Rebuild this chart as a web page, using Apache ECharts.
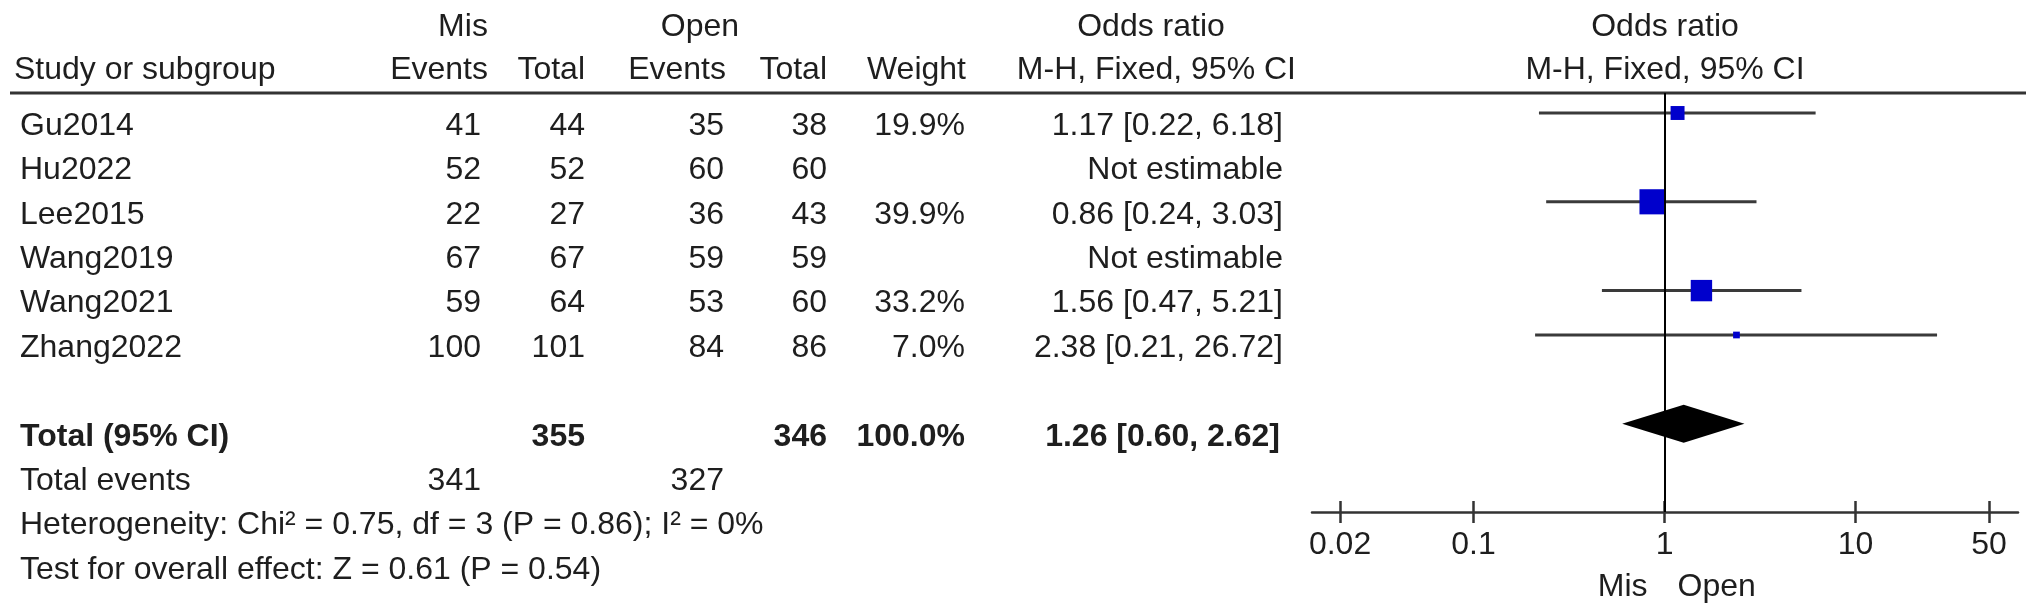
<!DOCTYPE html>
<html><head><meta charset="utf-8">
<script src="https://cdn.jsdelivr.net/npm/echarts@6/dist/echarts.min.js"></script>
<style>html,body{margin:0;padding:0;background:#fff}#c{width:2032px;height:616px}</style>
</head><body><div id="c"></div>
<script>
// ---------------- data ----------------
const studies    = ['Gu2014', 'Hu2022', 'Lee2015', 'Wang2019', 'Wang2021', 'Zhang2022'];
const misEvents  = [41, 52, 22, 67, 59, 100];
const misTotal   = [44, 52, 27, 67, 64, 101];
const openEvents = [35, 60, 36, 59, 53, 84];
const openTotal  = [38, 60, 43, 59, 60, 86];
const weights    = [19.9, null, 39.9, null, 33.2, 7.0];
const orValue    = [1.17, null, 0.86, null, 1.56, 2.38];
const ciLow      = [0.22, null, 0.24, null, 0.47, 0.21];
const ciHigh     = [6.18, null, 3.03, null, 5.21, 26.72];
const totalMis = 355, totalOpen = 346, totalWeight = 100.0;
const totalOR = 1.26, totalLow = 0.60, totalHigh = 2.62;
const totalEventsMis = 341, totalEventsOpen = 327;
const xTicks = [0.02, 0.1, 1, 10, 50];
const hetText = 'Heterogeneity: Chi\u00B2 = 0.75, df = 3 (P = 0.86); I\u00B2 = 0%';
const effectText = 'Test for overall effect: Z = 0.61 (P = 0.54)';
const favourLeft = 'Mis', favourRight = 'Open';

// ---------------- layout ----------------
const FONT = '"Liberation Sans", Arial, Helvetica, sans-serif';
const FS = 32;
const TXT = '#1e1e1e';
const ROW0 = 126, ROWH = 44.4;            // text row centres
const rowY = r => ROW0 + ROWH * r;
const TOTAL_ROW = 7, TEVENTS_ROW = 8, HET_ROW = 9, TEST_ROW = 10;
const GRID = {left: 1312, top: 93, width: 706, height: 419};
const LINE0 = 113;                         // pixel of forest row 0
const yMin = -(LINE0 - GRID.top) / ROWH;
const yMax = yMin + GRID.height / ROWH;
const col = {study: 20, misEv: 481, misTot: 585, opEv: 724, opTot: 827, weight: 965, ci: 1283};
const X_MIN = 0.01426, X_MAX = 70.9;

const fmt = (v, d) => v.toFixed(d);
const ciStr = (o, l, h) => fmt(o, 2) + ' [' + fmt(l, 2) + ', ' + fmt(h, 2) + ']';

const chart = echarts.init(document.getElementById('c'), null, {renderer: 'canvas'});

const ciData = [], sqData = [];
studies.forEach((s, i) => {
  if (orValue[i] != null) {
    ciData.push([ciLow[i], ciHigh[i], i]);
    sqData.push([orValue[i], i, weights[i]]);
  }
});

const tickLabel = v => {
  const t = xTicks.find(t => Math.abs(Math.log10(t) - Math.log10(v)) < 1e-6);
  return t != null ? String(t) : '';
};
const gridRect = {left: GRID.left, top: GRID.top, width: GRID.width, height: GRID.height, containLabel: false};

chart.setOption({
  animation: false,
  backgroundColor: '#fff',
  grid: [Object.assign({}, gridRect), Object.assign({}, gridRect)],
  xAxis: [
    {type: 'log', gridIndex: 0, min: X_MIN, max: X_MAX, position: 'bottom',
     axisLine: {show: true, onZero: false, lineStyle: {color: '#333', width: 2.5}},
     axisTick: {show: true, customValues: xTicks, length: 11, inside: false, lineStyle: {color: '#333', width: 2.5}},
     axisLabel: {show: true, customValues: xTicks, margin: 17, fontSize: FS, color: TXT, fontFamily: FONT, formatter: tickLabel},
     splitLine: {show: false}, minorTick: {show: false}},
    {type: 'log', gridIndex: 1, min: X_MIN, max: X_MAX, position: 'bottom',
     axisLine: {show: false, onZero: false},
     axisTick: {show: true, customValues: xTicks, length: 11, inside: true, lineStyle: {color: '#333', width: 2.5}},
     axisLabel: {show: false}, splitLine: {show: false}, minorTick: {show: false}}
  ],
  yAxis: [
    {type: 'value', gridIndex: 0, inverse: true, min: yMin, max: yMax, show: false},
    {type: 'value', gridIndex: 1, inverse: true, min: yMin, max: yMax, show: false}
  ],
  series: [
    {type: 'custom', xAxisIndex: 0, yAxisIndex: 0, data: ciData, encode: {x: [0, 1], y: 2},
     renderItem: (params, api) => {
       const p1 = api.coord([api.value(0), api.value(2)]);
       const p2 = api.coord([api.value(1), api.value(2)]);
       return {type: 'line', shape: {x1: p1[0], y1: p1[1], x2: p2[0], y2: p2[1]},
               style: {stroke: '#3a3a3a', lineWidth: 3}};
     }},
    {type: 'scatter', xAxisIndex: 0, yAxisIndex: 0, data: sqData, symbol: 'rect',
     symbolSize: v => 2.8 + 0.56 * v[2],
     itemStyle: {color: '#0000cc', opacity: 1},
     markLine: {silent: true, symbol: ['none', 'none'], label: {show: false},
                lineStyle: {color: '#000', width: 2, type: 'solid'},
                data: [{xAxis: 1}]}},
    {type: 'custom', xAxisIndex: 0, yAxisIndex: 0, data: [[totalLow, totalOR, totalHigh, TOTAL_ROW]],
     encode: {x: [0, 1, 2], y: 3},
     renderItem: (params, api) => {
       const r = api.value(3);
       const l = api.coord([api.value(0), r]), c = api.coord([api.value(1), r]), h = api.coord([api.value(2), r]);
       const hh = 19;
       return {type: 'polygon', shape: {points: [[l[0], l[1]], [c[0], c[1] - hh], [h[0], h[1]], [c[0], c[1] + hh]]},
               style: {fill: '#000'}};
     }}
  ]
});

// ---------------- table text ----------------
const g = [];
const txt = (s, x, y, align, bold) => g.push({type: 'text', x: x, y: y, silent: true,
  style: {text: s, fill: TXT, font: (bold ? 'bold ' : '') + FS + 'px ' + FONT, align: align, verticalAlign: 'middle'}});

const H1 = 27, H2 = 70;
txt(favourLeft, 463, H1, 'center');
txt(favourRight, 700, H1, 'center');
txt('Odds ratio', 1151, H1, 'center');
txt('Study or subgroup', col.study - 6, H2, 'left');
txt('Events', 488, H2, 'right');
txt('Total', 585, H2, 'right');
txt('Events', 726, H2, 'right');
txt('Total', 827, H2, 'right');
txt('Weight', 966, H2, 'right');
txt('M-H, Fixed, 95% CI', 1296, H2, 'right');
const plotCx = GRID.left + GRID.width / 2;
txt('Odds ratio', plotCx, H1, 'center');
txt('M-H, Fixed, 95% CI', plotCx, H2, 'center');

g.push({type: 'line', silent: true, shape: {x1: 10, y1: GRID.top, x2: 2026, y2: GRID.top},
        style: {stroke: '#333', lineWidth: 3}});

studies.forEach((s, i) => {
  const y = rowY(i);
  txt(s, col.study, y, 'left');
  txt(String(misEvents[i]), col.misEv, y, 'right');
  txt(String(misTotal[i]), col.misTot, y, 'right');
  txt(String(openEvents[i]), col.opEv, y, 'right');
  txt(String(openTotal[i]), col.opTot, y, 'right');
  if (weights[i] != null) txt(fmt(weights[i], 1) + '%', col.weight, y, 'right');
  txt(orValue[i] != null ? ciStr(orValue[i], ciLow[i], ciHigh[i]) : 'Not estimable', col.ci, y, 'right');
});
let y = rowY(TOTAL_ROW);
txt('Total (95% CI)', col.study, y, 'left', true);
txt(String(totalMis), col.misTot, y, 'right', true);
txt(String(totalOpen), col.opTot, y, 'right', true);
txt(fmt(totalWeight, 1) + '%', col.weight, y, 'right', true);
txt(ciStr(totalOR, totalLow, totalHigh), col.ci - 3, y, 'right', true);
y = rowY(TEVENTS_ROW);
txt('Total events', col.study, y, 'left');
txt(String(totalEventsMis), col.misEv, y, 'right');
txt(String(totalEventsOpen), col.opEv, y, 'right');
txt(hetText, col.study, rowY(HET_ROW), 'left');
txt(effectText, col.study, rowY(TEST_ROW), 'left');

// favours labels around the null line
const nullX = chart.convertToPixel({xAxisIndex: 0}, 1);
txt(favourLeft, nullX - 17, 587, 'right');
txt(favourRight, nullX + 13, 587, 'left');

chart.setOption({graphic: g});
</script>
</body></html>
